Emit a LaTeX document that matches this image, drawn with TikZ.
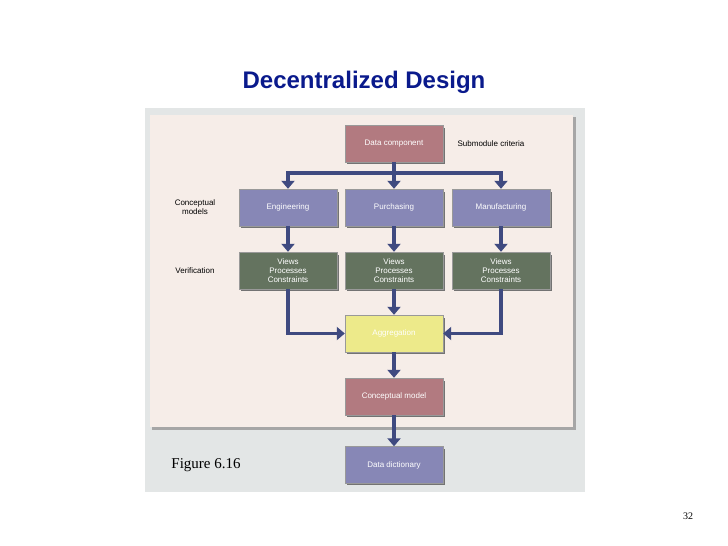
\documentclass[tikz,border=0pt]{standalone}
\usepackage{fontspec}
\setmainfont{Liberation Serif}
\newfontfamily\sansf{Liberation Sans}
\usetikzlibrary{arrows.meta}
\definecolor{rose}{HTML}{B27A80}
\definecolor{bluebx}{HTML}{8787B6}
\definecolor{greenbx}{HTML}{64735F}
\definecolor{yellowbx}{HTML}{EDEA8A}
\definecolor{arrowc}{HTML}{3F4A80}
\definecolor{panel}{HTML}{F6EDE8}
\definecolor{bggrey}{HTML}{E3E6E6}
\definecolor{titleblue}{HTML}{0A1A8C}
\tikzset{
 bx/.style={minimum width=98pt,minimum height=37pt,inner sep=1pt,text=white,font=\sansf\fontsize{8}{9}\selectfont,align=center,draw=black!40,line width=0.4pt},
 lbl/.style={font=\sansf\fontsize{8}{9}\selectfont,align=center,text=black},
 arr/.style={draw=arrowc,line width=3.5pt,-{Triangle[length=8pt,width=13pt]}},
 ln/.style={draw=arrowc,line width=3.5pt}
}
\newcommand{\shbox}[5]{% name, x, y, color, text
 \fill[black!55] (#2-47,#3-16) rectangle (#2+51,#3+20);
 \node[bx,fill=#4] (#1) at (#2,#3) {#5};}
\begin{document}
\begin{tikzpicture}[x=1pt,y=-1pt]
\fill[white] (0,0) rectangle (728,546);
\useasboundingbox (0,0) rectangle (728,546);
\node[font=\sansf\bfseries\fontsize{24}{28}\selectfont,text=titleblue] (title) at (364,82) {Decentralized Design};
\node[font=\fontsize{10}{12}\selectfont] (pg) at (688,516) {32};
\fill[bggrey] (145,108) rectangle (585,492);
\fill[black!35] (152,117) rectangle (576,430);
\fill[panel] (150,115) rectangle (573,427);
\shbox{dc}{394}{143.5}{rose}{Data component}
\shbox{eng}{288}{207.5}{bluebx}{Engineering}
\shbox{pur}{394}{207.5}{bluebx}{Purchasing}
\shbox{man}{501}{207.5}{bluebx}{Manufacturing}
\shbox{v1}{288}{270.5}{greenbx}{Views\\Processes\\Constraints}
\shbox{v2}{394}{270.5}{greenbx}{Views\\Processes\\Constraints}
\shbox{v3}{501}{270.5}{greenbx}{Views\\Processes\\Constraints}
\shbox{agg}{394}{333.5}{yellowbx}{Aggregation}
\shbox{cm}{394}{396.5}{rose}{Conceptual model}
\shbox{dd}{394}{465}{bluebx}{Data dictionary}
\node[lbl] (sc) at (491,144) {Submodule criteria};
\node[lbl] (cl) at (195,207) {Conceptual\\models};
\node[lbl] (vl) at (195,271) {Verification};
\node[font=\fontsize{15}{17}\selectfont] (fig) at (206,465) {Figure 6.16};
\coordinate (bus) at (394,173);
\draw[ln] (dc.south) -- (bus);
\draw[arr] (bus) -| (eng.north);
\draw[arr] (bus) -| (man.north);
\draw[arr] (bus) -- (pur.north);
\draw[arr] (eng) -- (v1);
\draw[arr] (pur) -- (v2);
\draw[arr] (man) -- (v3);
\draw[arr] (v1.south) |- (agg.west);
\draw[arr] (v3.south) |- (agg.east);
\draw[arr] (v2) -- (agg);
\draw[arr] (agg) -- (cm);
\draw[arr] (cm) -- (dd);
\end{tikzpicture}
\end{document}
